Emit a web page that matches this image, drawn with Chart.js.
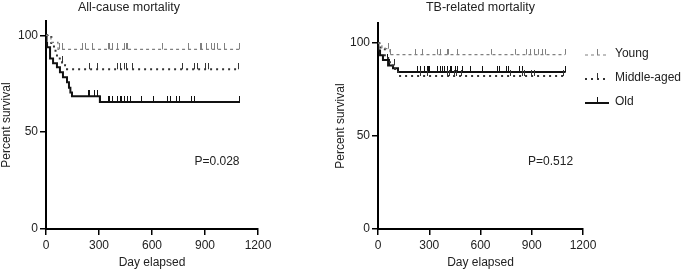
<!DOCTYPE html>
<html>
<head>
<meta charset="utf-8">
<script src="https://cdn.jsdelivr.net/npm/chart.js@4.4.0/dist/chart.umd.min.js"></script>
<style>
  body { margin: 0; background: #fff; width: 681px; height: 269px; position: relative; overflow: hidden;
         font-family: "Liberation Sans", Arial, sans-serif; }
  #cAll { position: absolute; left: 0; top: 0; }
  #cTB { position: absolute; left: 330px; top: 0; }
  #legend { position: absolute; left: 585px; top: 41px; font-size: 12px; color: #222; white-space: nowrap; }
  .item { display: flex; align-items: center; height: 24px; }
  .item svg { margin-right: 6px; flex: none; }
</style>
</head>
<body>
<canvas id="cAll" width="294" height="269"></canvas>
<canvas id="cTB" width="290" height="269"></canvas>
<div id="legend"></div>
<script>
const xTicks = [0, 300, 600, 900, 1200];
const yTicks = [0, 50, 100];
const groups = ["Young", "Middle-aged", "Old"];

// All-cause mortality: step times (days) and survival (%) from that day on
const allYoungDays = [0, 28, 68, 1095];
const allYoungSurv = [100, 96.4, 92.8, 92.8];
const allMiddleDays = [0, 30, 45, 62, 91, 108, 119, 1090];
const allMiddleSurv = [100, 96, 92, 88, 86, 84.5, 82.5, 82.5];
const allOldDays = [0, 3, 6, 23, 40, 62, 79, 96, 119, 130, 138, 147, 305, 1098];
const allOldSurv = [100, 96, 93.8, 88, 85.6, 83.5, 81, 78.4, 75.8, 73, 70.5, 68.6, 65.6, 65.6];
// censored subjects (days)
const allYoungCens = [74, 91, 204, 221, 266, 351, 362, 379, 402, 407, 447, 458, 464, 662, 804, 872, 883, 911, 939, 956, 973, 1013, 1095];
const allMiddleCens = [96, 249, 289, 407, 419, 447, 458, 487, 775, 843, 855, 900, 917, 1087];
const allOldCens = [238, 249, 277, 289, 294, 306, 351, 362, 379, 402, 419, 430, 447, 464, 481, 543, 606, 690, 702, 741, 758, 826, 843, 1098];

// TB-related mortality
const tbYoungDays = [0, 23, 70, 1095];
const tbYoungSurv = [100, 97, 93.8, 93.8];
const tbMiddleDays = [0, 15, 40, 70, 100, 117, 1090];
const tbMiddleSurv = [100, 97, 92, 88, 85, 82.3, 82.3];
const tbOldDays = [0, 2, 12, 29, 59, 88, 117, 1098];
const tbOldSurv = [100, 96, 93.5, 90.9, 88, 86.5, 84.4, 84.4];
const tbYoungCens = [64, 76, 217, 263, 351, 363, 404, 410, 463, 667, 802, 872, 890, 919, 937, 960, 978, 1095];
const tbMiddleCens = [96, 249, 289, 407, 419, 447, 458, 487, 775, 843, 855, 900, 917, 1087];
const tbOldCens = [55, 65, 234, 246, 275, 287, 293, 304, 351, 363, 375, 392, 404, 422, 433, 451, 468, 492, 539, 609, 697, 714, 755, 761, 831, 843, 1095];

const styles = {
    "Young": { color: "#808080", dash: [3, 3], width: 1.2 },
    "Middle-aged": { color: "#333333", dash: [2, 4], width: 2 },
    "Old": { color: "#111111", dash: [], width: 2 }
};

const font12 = { size: 12, family: "'Liberation Sans', Arial, sans-serif" };

function levelAt(days, surv, t) {
    let s = surv[0];
    for (let i = 0; i < days.length; i++) {
        if (days[i] <= t) s = surv[i];
    }
    return s;
}

// small upward tick used as censor mark
function tickImage(color) {
    const c = document.createElement("canvas");
    c.width = 1;
    c.height = 12;
    const g = c.getContext("2d");
    g.fillStyle = color;
    g.fillRect(0, 0, 1, 6);
    return c;
}

function curveSets(name, days, surv, cens) {
    const st = styles[name];
    return [
        {
            label: name,
            data: days.map((d, i) => ({ x: d, y: surv[i] })),
            stepped: true,
            borderColor: st.color,
            borderDash: st.dash,
            borderWidth: st.width,
            pointRadius: 0,
            fill: false
        },
        {
            label: name + " censored",
            data: cens.map(d => ({ x: d, y: levelAt(days, surv, d) })),
            showLine: false,
            pointStyle: tickImage(st.color),
            pointRadius: 2
        }
    ];
}

const pText = {
    id: "pText",
    afterDatasetsDraw(chart, args, opts) {
        const { ctx, scales: { x, y } } = chart;
        ctx.save();
        ctx.font = "12px 'Liberation Sans', Arial, sans-serif";
        ctx.fillStyle = "#222";
        ctx.textAlign = "center";
        ctx.textBaseline = "middle";
        ctx.fillText(opts.text, x.getPixelForValue(opts.x), y.getPixelForValue(opts.y));
        ctx.restore();
    }
};

function makeChart(id, title, datasets, o) {
    return new Chart(document.getElementById(id), {
        type: "line",
        data: { datasets: datasets },
        plugins: [pText],
        options: {
            responsive: false,
            animation: false,
            layout: { padding: { left: 0, right: o.padRight, top: 0, bottom: 0 } },
            plugins: {
                legend: { display: false },
                tooltip: { enabled: false },
                title: {
                    display: true,
                    text: title,
                    fullSize: o.fullTitle,
                    color: "#222",
                    font: { size: 12.5, weight: "normal", family: "'Liberation Sans', Arial, sans-serif" },
                    padding: { top: 0, bottom: o.titleGap }
                },
                pText: o.p
            },
            scales: {
                x: {
                    type: "linear",
                    min: 0,
                    max: 1200,
                    afterBuildTicks: s => { s.ticks = xTicks.map(v => ({ value: v })); },
                    afterFit: s => { s.height = 40; },
                    ticks: { color: "#222", padding: 3, font: font12, callback: v => String(v) },
                    grid: { drawOnChartArea: false, drawTicks: true, tickLength: 6, color: "#000", lineWidth: 1.5 },
                    border: { color: "#000", width: 2 },
                    title: { display: true, text: "Day elapsed", color: "#222", padding: 0,
                             font: { size: 12, lineHeight: 1, family: font12.family } }
                },
                y: {
                    type: "linear",
                    min: 0,
                    max: o.yMax,
                    afterBuildTicks: s => { s.ticks = yTicks.map(v => ({ value: v })); },
                    afterFit: s => { s.width = o.yWidth; },
                    ticks: { color: "#222", padding: 2, font: font12, callback: v => String(v) },
                    grid: { drawOnChartArea: false, drawTicks: true, tickLength: 6, color: "#000", lineWidth: 1.5 },
                    border: { color: "#000", width: 2 },
                    title: { display: true, text: "Percent survival", color: "#222", padding: { top: o.yTitlePad },
                             font: { size: 12, lineHeight: 1, family: font12.family } }
                }
            }
        }
    });
}

makeChart("cAll", "All-cause mortality", [
    ...curveSets("Young", allYoungDays, allYoungSurv, allYoungCens),
    ...curveSets("Middle-aged", allMiddleDays, allMiddleSurv, allMiddleCens),
    ...curveSets("Old", allOldDays, allOldSurv, allOldCens)
], { padRight: 36, fullTitle: true, titleGap: 6.2, yMax: 107.3, yWidth: 46, yTitlePad: 0.5,
     p: { text: "P=0.028", x: 968, y: 35 } });

const tbChart = makeChart("cTB", "TB-related mortality", [
    ...curveSets("Young", tbYoungDays, tbYoungSurv, tbYoungCens),
    ...curveSets("Middle-aged", tbMiddleDays, tbMiddleSurv, tbMiddleCens),
    ...curveSets("Old", tbOldDays, tbOldSurv, tbOldCens)
], { padRight: 37, fullTitle: false, titleGap: 8.2, yMax: 110.7, yWidth: 48, yTitlePad: 5,
     p: { text: "P=0.512", x: 1010, y: 36 } });

// html legend built from the chart's curve datasets
const legend = document.getElementById("legend");
tbChart.data.datasets.filter(d => groups.includes(d.label)).forEach(d => {
    const item = document.createElement("div");
    item.className = "item";
    const dash = d.borderDash.length ? d.borderDash.join(",") : "none";
    item.innerHTML =
        '<svg width="24" height="12"><line x1="0" y1="8" x2="24" y2="8" stroke="' + d.borderColor +
        '" stroke-width="' + d.borderWidth + '" stroke-dasharray="' + dash + '"/>' +
        '<line x1="12.5" y1="2" x2="12.5" y2="8" stroke="' + d.borderColor + '" stroke-width="1"/></svg>' +
        "<span>" + d.label + "</span>";
    legend.appendChild(item);
});
</script>
</body>
</html>
